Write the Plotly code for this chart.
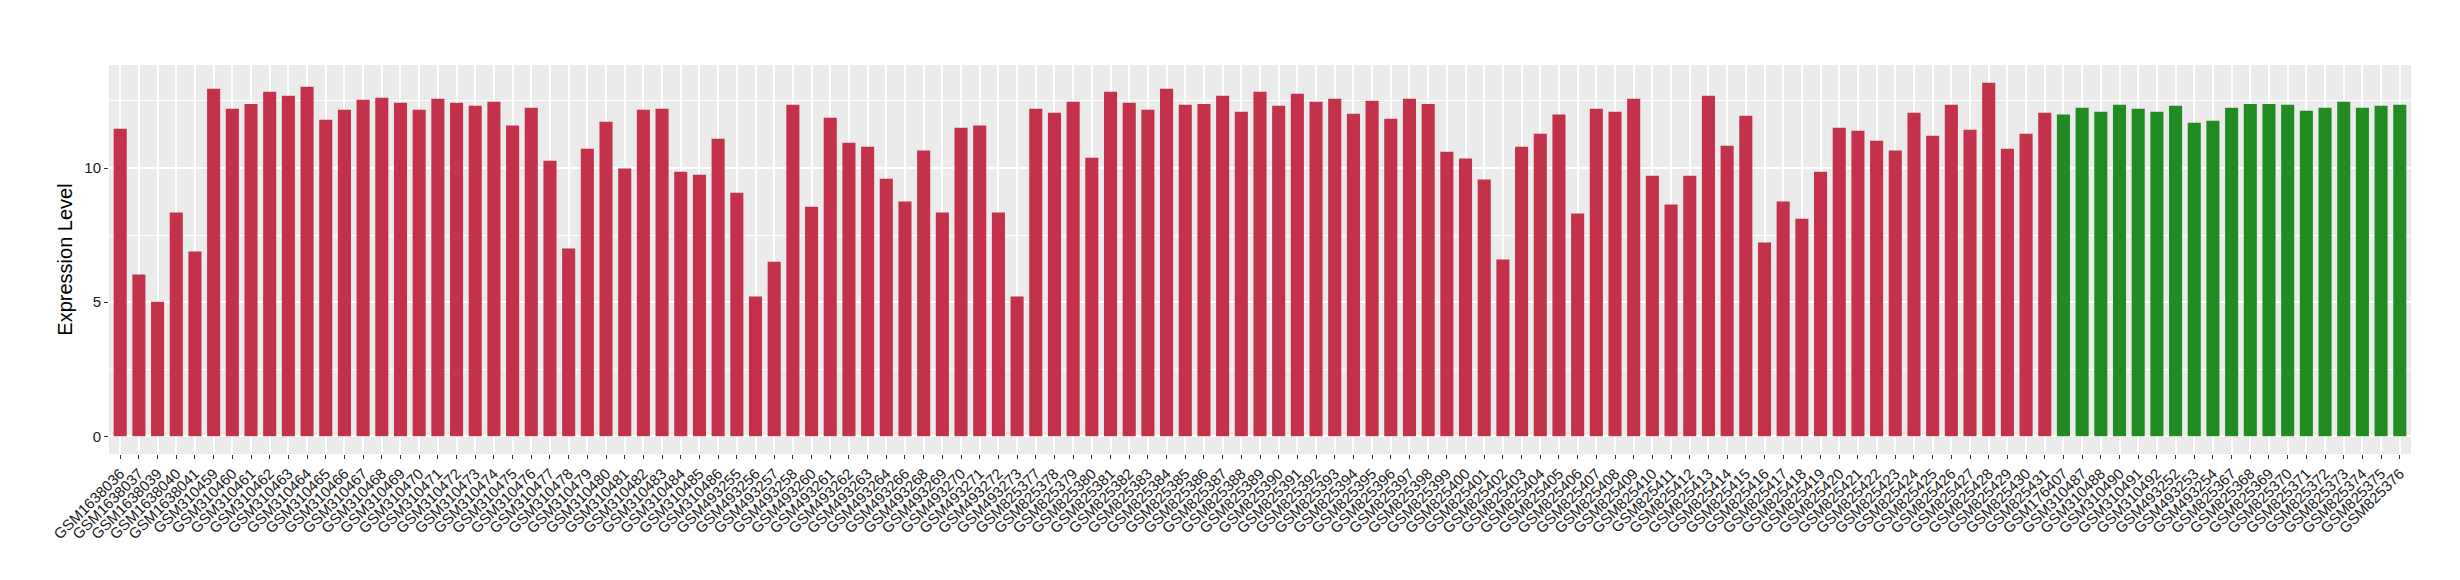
import plotly.graph_objects as go

red_samples = (
    ["GSM1638036", "GSM1638037", "GSM1638039", "GSM1638040", "GSM1638041"]
    + ["GSM3104%02d" % i for i in range(59, 87)]
    + ["GSM493255", "GSM493256", "GSM493257", "GSM493258", "GSM493260", "GSM493261",
       "GSM493262", "GSM493263", "GSM493264", "GSM493266", "GSM493268", "GSM493269",
       "GSM493270", "GSM493271", "GSM493272", "GSM493273"]
    + ["GSM825%d" % i for i in range(377, 432)]
)
green_samples = (
    ["GSM176407", "GSM310487", "GSM310488", "GSM310490", "GSM310491", "GSM310492",
     "GSM493252", "GSM493253", "GSM493254"]
    + ["GSM825%d" % i for i in range(367, 377)]
)

red_values = [
    11.46, 6.03, 5.02, 8.34, 6.89, 12.95, 12.21, 12.39, 12.84, 12.69,
    13.03, 11.80, 12.17, 12.54, 12.62, 12.43, 12.17, 12.58, 12.43, 12.32,
    12.47, 11.58, 12.25, 10.27, 7.00, 10.72, 11.72, 9.98, 12.17, 12.21,
    9.86, 9.75, 11.09, 9.08, 5.21, 6.51, 12.36, 8.56, 11.87, 10.94,
    10.79, 9.60, 8.75, 10.65, 8.34, 11.50, 11.58, 8.34, 5.21, 12.21,
    12.06, 12.47, 10.38, 12.84, 12.43, 12.17, 12.95, 12.36, 12.39, 12.69,
    12.10, 12.84, 12.32, 12.77, 12.47, 12.58, 12.02, 12.51, 11.84, 12.58,
    12.39, 10.61, 10.35, 9.57, 6.59, 10.79, 11.28, 11.99, 8.30, 12.21,
    12.10, 12.58, 9.71, 8.64, 9.71, 12.69, 10.83, 11.95, 7.22, 8.75,
    8.11, 9.86, 11.50, 11.39, 11.02, 10.65, 12.06, 11.20, 12.36, 11.43,
    13.18, 10.72, 11.28, 12.06,
]
green_values = [
    11.99, 12.25, 12.10, 12.36, 12.21, 12.10, 12.32, 11.69, 11.76, 12.25,
    12.39, 12.39, 12.36, 12.13, 12.25, 12.47, 12.25, 12.32, 12.36,
]

categories = red_samples + green_samples
y_ticks = [0, 5, 10]

fig = go.Figure()
fig.add_trace(go.Bar(x=red_samples, y=red_values, marker_color="#C3324A",
                     marker_line_width=0, width=0.7, showlegend=False))
fig.add_trace(go.Bar(x=green_samples, y=green_values, marker_color="#228B22",
                     marker_line_width=0, width=0.7, showlegend=False))

ymax = max(red_values + green_values)
pad = ymax * 0.05

fig.update_layout(
    width=2460, height=580,
    margin=dict(l=101, r=57, t=57, b=134, autoexpand=False),
    paper_bgcolor="white", plot_bgcolor="#EBEBEB",
    font=dict(family="Liberation Sans, Arial, sans-serif", color="#1A1A1A"),
    bargap=0.3,
)
fig.update_xaxes(
    type="category", categoryorder="array", categoryarray=categories,
    tickmode="array", tickvals=categories, ticktext=categories,
    range=[-0.6, len(categories) - 1 + 0.6],
    tickangle=-45, tickfont=dict(size=15, color="#1A1A1A"),
    showgrid=True, gridcolor="white", gridwidth=1.8,
    ticks="outside", ticklen=4, tickcolor="#333333", tickwidth=1,
    showline=False, zeroline=False, automargin=False,
)
fig.update_yaxes(
    range=[-pad, ymax + pad],
    tickmode="array", tickvals=y_ticks, ticktext=[str(v) for v in y_ticks],
    tickfont=dict(size=15, color="#1A1A1A"),
    showgrid=True, gridcolor="white", gridwidth=1.8,
    minor=dict(tickmode="array", tickvals=[2.5, 7.5, 12.5], showgrid=True,
               gridcolor="white", gridwidth=0.9, ticks=""),
    ticks="outside", ticklen=4, tickcolor="#333333", tickwidth=1,
    zeroline=False, showline=False, automargin=False,
    title=dict(text="Expression Level", font=dict(size=20, color="black"), standoff=6),
)

fig.write_html("out.html")
